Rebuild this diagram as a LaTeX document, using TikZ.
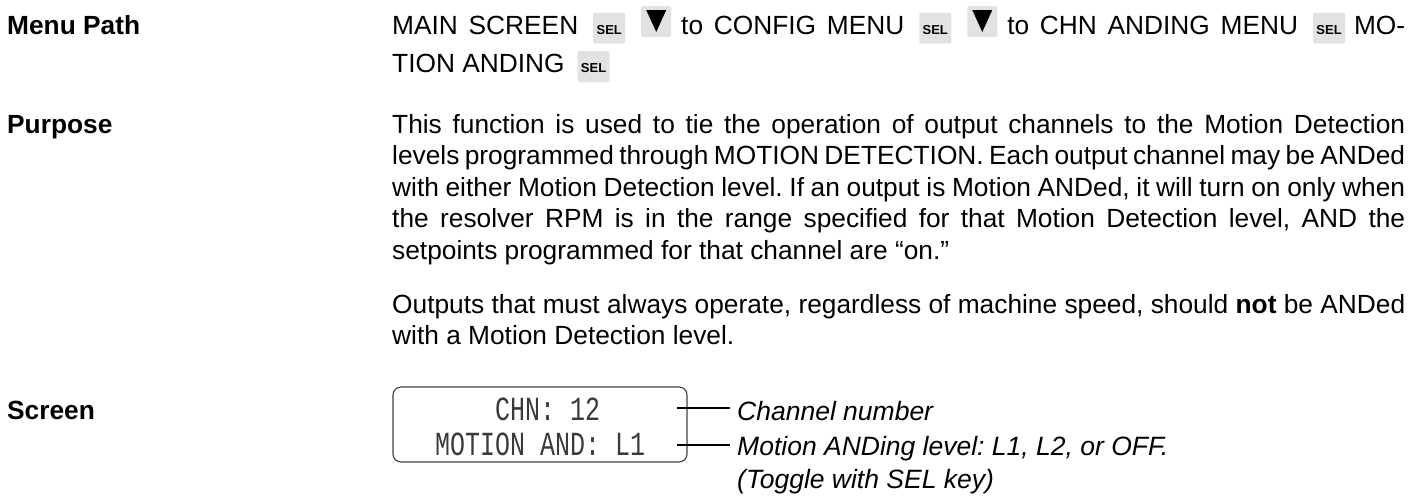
\documentclass[tikz,border=0pt]{standalone}
\usepackage{fontspec}
\usepackage{graphicx}
\setmainfont{Liberation Sans}
\newfontfamily\lcdfont{Liberation Mono}
\definecolor{keygray}{HTML}{E2E2E2}
\definecolor{lcdgray}{HTML}{3A3A3A}
\newcommand\selk{\tikz[baseline=0pt,x=1pt,y=1pt]{\fill[keygray,rounded corners=1.5pt] (0,-9.5) rectangle (32,21.5); \node[inner sep=0pt,anchor=base,font=\fontsize{13}{13}\selectfont\bfseries,text=black] at (16,0) {SEL};}}
\newcommand\downk{\tikz[baseline=0pt,x=1pt,y=1pt]{\fill[keygray,rounded corners=1.5pt] (0,-3) rectangle (30,28); \fill[black] (5,24) -- (25,24) -- (15,2) -- cycle;}}
\newcommand\normsp{\spaceskip=0pt\relax\xspaceskip=0pt\relax\frenchspacing}
\newcommand\jline[1]{{\normsp\makebox[1013pt][s]{#1}}}
\newcommand\kgap{\hspace{14pt plus 1pt}}
\newcommand\lcd[1]{\scalebox{1}[1.35]{#1}}
\begin{document}
\begin{tikzpicture}[x=1pt,y=-1pt,
  head/.style={anchor=base west,inner sep=0pt,font=\fontsize{26.3}{31}\selectfont\bfseries},
  body/.style={anchor=base west,inner sep=0pt,text width=1013pt,align=left,font=\fontsize{26.3}{31.5}\selectfont},
  scr/.style={draw=black!75,line width=1.1pt,rounded corners=8pt,minimum width=294pt,minimum height=75pt,inner sep=0pt},
  lcdtext/.style={anchor=base west,inner sep=0pt,font=\lcdfont\fontsize{25}{25}\selectfont,text=lcdgray},
  note/.style={anchor=base west,inner xsep=7pt,inner ysep=0pt,font=\fontsize{26.5}{26.5}\selectfont\itshape\frenchspacing},
  leader/.style={line width=1.2pt}]
\useasboundingbox (0,0) rectangle (1418,496);
\node[head] (h1) at (7,34) {Menu Path};
\node[head] (h2) at (7,133) {Purpose};
\node[head] (h3) at (7,419) {Screen};
\node[body,font=\fontsize{26.3}{38.5}\selectfont] (menu) at (392,34) {\normsp\jline{MAIN SCREEN\kgap\selk\hspace{16pt}\downk\hspace{10pt}to CONFIG MENU\kgap\selk\hspace{16pt}\downk\hspace{10pt}to CHN ANDING MENU\kgap\selk\hspace{9pt}MO-}\\TION ANDING\hspace{13pt}\selk{}};
\node[body] (p1) at (392,133) {\normsp\jline{This function is used to tie the operation of output channels to the Motion Detection}\\\jline{levels programmed through MOTION DETECTION. Each output channel may be ANDed}\\\jline{with either Motion Detection level. If an output is Motion ANDed, it will turn on only when}\\\jline{the resolver RPM is in the range specified for that Motion Detection level, AND the}\\setpoints programmed for that channel are “on.”};
\node[body] (p2) at (392,313) {\normsp\jline{Outputs that must always operate, regardless of machine speed, should \textbf{not} be ANDed}\\with a Motion Detection level.};
\node[scr] (box) at (540,424.5) {};
\node[lcdtext] (c1) at (495,420) {\lcd{CHN: 12}};
\node[lcdtext] (c2) at (435,455) {\lcd{MOTION AND: L1}};
\coordinate (e1) at (677,408);
\coordinate (e2) at (677,445);
\node[note] (n1) at (730,420) {Channel number};
\node[note] (n2) at (730,455) {Motion ANDing level: L1, L2, or OFF.};
\node[note] (n3) at (730,488) {(Toggle with SEL key)};
\draw[leader] (e1) -- (e1 -| n1.west);
\draw[leader] (e2) -- (e2 -| n2.west);
\end{tikzpicture}
\end{document}
